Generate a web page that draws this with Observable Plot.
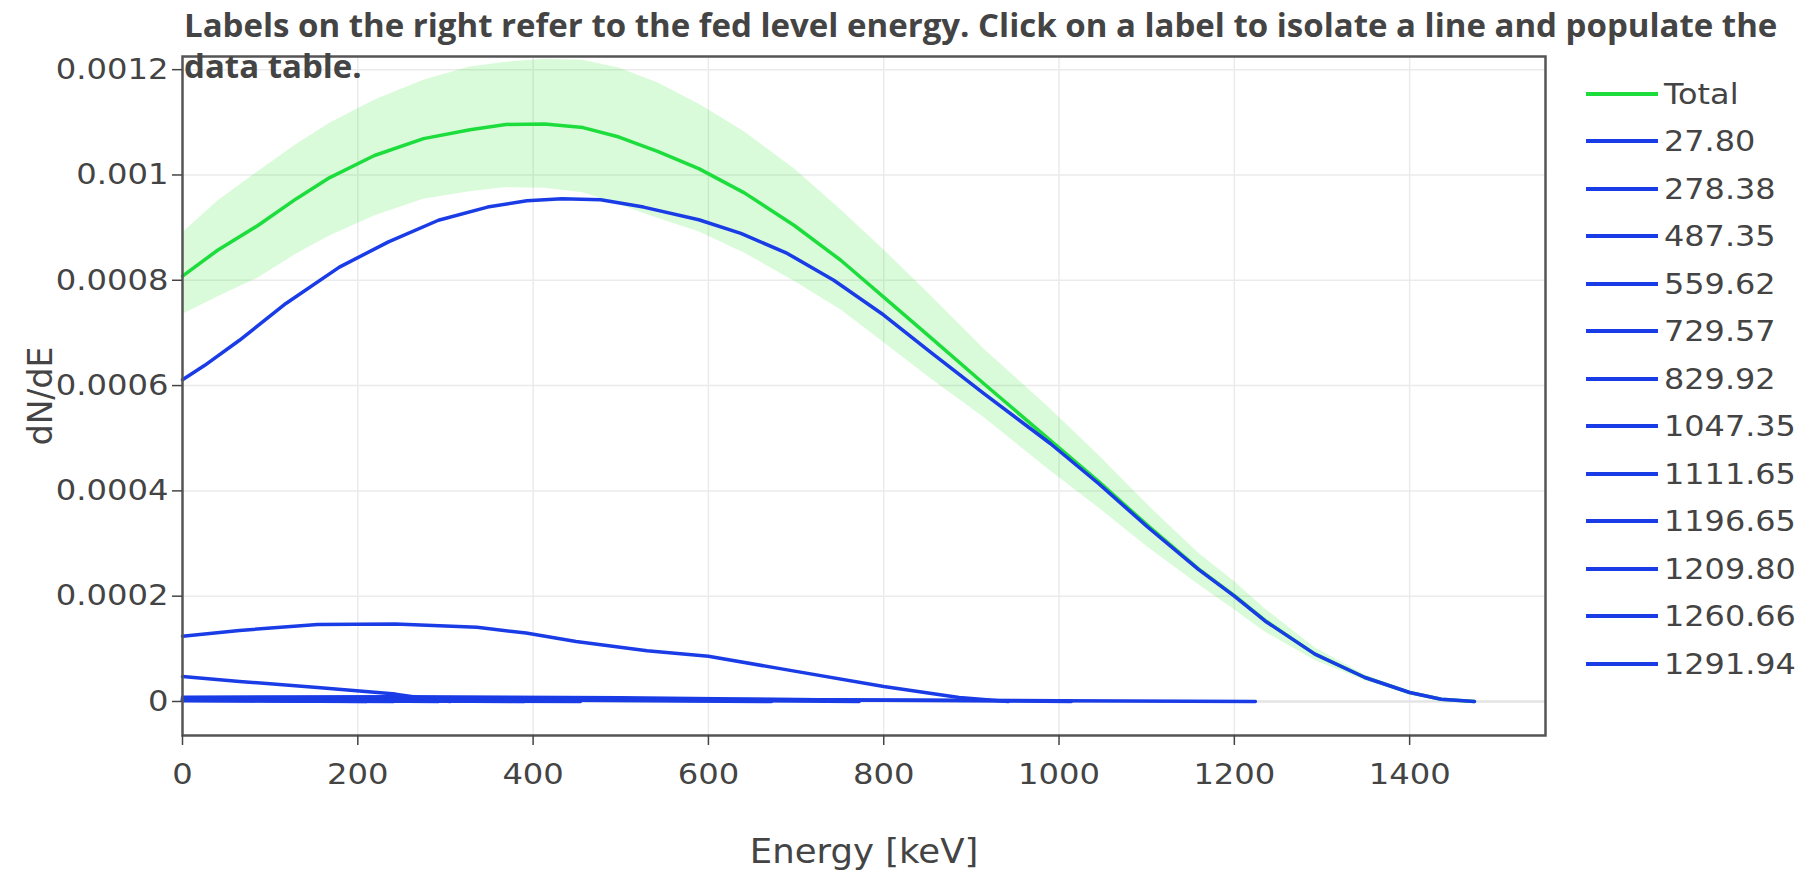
<!DOCTYPE html>
<html><head><meta charset="utf-8">
<script src="https://cdn.jsdelivr.net/npm/d3@7"></script>
<script src="https://cdn.jsdelivr.net/npm/@observablehq/plot@0.6"></script>
<style>
body{margin:0;background:#fff;}
#wrap{position:relative;width:1802px;height:872px;overflow:hidden;background:#fff;}
#chart{position:absolute;left:0;top:0;}
#title{position:absolute;left:184px;top:4px;font-family:"Open Sans";font-weight:700;font-size:27px;line-height:41px;color:#444;white-space:nowrap;z-index:2;}
#legend{position:absolute;left:1586px;top:70px;font-family:"DejaVu Sans";font-size:29px;color:#444;}
.row{display:flex;align-items:center;height:47.5px;}
.sw{width:72px;height:4px;margin-right:6px;flex:none;}
.lt{display:inline-block;transform:scaleX(1.1);transform-origin:left center;}
</style></head>
<body>
<div id="wrap">
  <div id="chart"></div>
  <div id="title"><span id="t1">Labels on the right refer to the fed level energy. Click on a label to isolate a line and populate the</span><br><span>data table.</span></div>
  <div id="legend"></div>
</div>
<script>
// ---- Data ----
const xTicks = [0, 200, 400, 600, 800, 1000, 1200, 1400];
const xTickLabels = ["0", "200", "400", "600", "800", "1000", "1200", "1400"];
const yTicks = [0, 0.0002, 0.0004, 0.0006, 0.0008, 0.001, 0.0012];
const yTickLabels = ["0", "0.0002", "0.0004", "0.0006", "0.0008", "0.001", "0.0012"];

const totalE = [0, 40, 86, 130, 168, 219, 275, 328, 369, 413, 457, 498, 542, 589, 641, 698, 751, 800, 853, 914, 990, 1045, 1102, 1159, 1200, 1235, 1292, 1349, 1400, 1436, 1474];
const totalY = [0.000808, 0.000857, 0.000904, 0.000955, 0.000995, 0.001037, 0.001069, 0.001086, 0.001096, 0.001097, 0.00109, 0.001072, 0.001045, 0.001012, 0.000966, 0.000904, 0.000838, 0.000768, 0.000692, 0.000604, 0.000496, 0.000418, 0.000333, 0.000252, 0.000201, 0.000154, 0.00009, 0.0000456, 0.0000171, 0.0000044, 0];
const totalUpper = [0.00089, 0.00095, 0.001006, 0.001058, 0.001098, 0.001142, 0.00118, 0.001205, 0.001214, 0.00122, 0.001218, 0.001203, 0.001175, 0.001135, 0.001082, 0.001012, 0.000934, 0.000858, 0.000772, 0.00067, 0.000556, 0.000468, 0.000372, 0.000282, 0.000228, 0.000176, 0.000102, 0.000051, 0.000019, 0.000005, 0];
const totalLower = [0.000735, 0.000768, 0.000804, 0.00085, 0.000884, 0.000922, 0.000954, 0.000968, 0.000976, 0.000975, 0.000966, 0.000944, 0.000918, 0.000892, 0.000852, 0.000798, 0.000744, 0.000682, 0.000614, 0.00054, 0.000438, 0.000368, 0.000292, 0.000222, 0.000174, 0.000132, 0.000078, 0.00004, 0.000015, 0.000004, 0];

const levels = ["27.80", "278.38", "487.35", "559.62", "729.57", "829.92", "1047.35", "1111.65", "1196.65", "1209.80", "1260.66", "1291.94"];

const e_27_80 = [0, 25, 65, 118, 179, 235, 292, 348, 393, 433, 477, 526, 589, 637, 690, 743, 800, 853, 914, 990, 1045, 1102, 1159, 1200, 1235, 1292, 1349, 1400, 1436, 1474];
const y_27_80 = [0.000611, 0.000638, 0.000686, 0.000756, 0.000825, 0.000873, 0.000914, 0.000939, 0.000951, 0.000955, 0.000953, 0.000939, 0.000915, 0.000889, 0.000851, 0.0008, 0.000734, 0.000664, 0.000585, 0.00049, 0.000414, 0.00033, 0.000251, 0.0002, 0.000153, 0.00009, 0.0000456, 0.0000171, 0.0000044, 0];
const e_278_38 = [0, 200, 400, 600, 800, 1000, 1224];
const y_278_38 = [0.000004, 0.000005, 0.000005, 0.000004, 0.000003, 0.0000015, 0];
const e_487_35 = [0, 250, 500, 750, 1014];
const y_487_35 = [0.000008, 0.000009, 0.000007, 0.000003, 0];
const e_559_62 = [0, 65, 154, 243, 336, 392, 449, 530, 600, 690, 800, 886, 942];
const y_559_62 = [0.000124, 0.000135, 0.000146, 0.000147, 0.000141, 0.00013, 0.000114, 0.0000965, 0.000086, 0.00006, 0.0000286, 0.0000076, 0];
const e_729_57 = [0, 200, 400, 600, 772];
const y_729_57 = [0.000006, 0.000006, 0.000004, 0.000002, 0];
const e_829_92 = [0, 200, 400, 672];
const y_829_92 = [0.000005, 0.000004, 0.000003, 0];
const e_1047_35 = [0, 200, 454];
const y_1047_35 = [0.000003, 0.000002, 0];
const e_1111_65 = [0, 200, 390];
const y_1111_65 = [0.000003, 0.000002, 0];
const e_1196_65 = [0, 65, 154, 243, 275, 305];
const y_1196_65 = [0.0000476, 0.0000381, 0.0000267, 0.000014, 0.000006, 0];
const e_1209_80 = [0, 150, 292];
const y_1209_80 = [0.000004, 0.000002, 0];
const e_1260_66 = [0, 120, 241];
const y_1260_66 = [0.000002, 0.000001, 0];
const e_1291_94 = [0, 100, 210];
const y_1291_94 = [0.000002, 0.000001, 0];

// ---- Tables built from the arrays ----
const series = [
  [e_27_80, y_27_80], [e_278_38, y_278_38], [e_487_35, y_487_35], [e_559_62, y_559_62],
  [e_729_57, y_729_57], [e_829_92, y_829_92], [e_1047_35, y_1047_35], [e_1111_65, y_1111_65],
  [e_1196_65, y_1196_65], [e_1209_80, y_1209_80], [e_1260_66, y_1260_66], [e_1291_94, y_1291_94]
];
const compRows = [];
series.forEach(([es, ys], k) => es.forEach((e, i) => compRows.push({level: levels[k], E: e, v: ys[i]})));
const totalRows = totalE.map((e, i) => ({E: e, v: totalY[i], lo: totalLower[i], hi: totalUpper[i]}));

const GREEN = "#1ddd3d";
const BLUE = "#1a3ce6";

const chart = Plot.plot({
  width: 1802,
  height: 872,
  marginLeft: 182,
  marginRight: 257,
  marginTop: 56,
  marginBottom: 137,
  style: {fontFamily: "DejaVu Sans", fontSize: "29px", color: "#444", background: "transparent", overflow: "visible"},
  x: {domain: [0, 1555]},
  y: {domain: [-0.0000646, 0.001225]},
  marks: [
    Plot.gridX(xTicks.slice(1), {stroke: "#ebebeb", strokeOpacity: 1, strokeWidth: 1.5}),
    Plot.gridY(yTicks.slice(1), {stroke: "#ebebeb", strokeOpacity: 1, strokeWidth: 1.5}),
    Plot.ruleY([0], {stroke: "#e4e4e4", strokeWidth: 2.5}),
    Plot.areaY(totalRows, {x: "E", y1: "lo", y2: "hi", fill: "#00e600", fillOpacity: 0.15}),
    Plot.line(totalRows, {x: "E", y: "v", stroke: GREEN, strokeWidth: 3.5}),
    Plot.line(compRows, {x: "E", y: "v", z: "level", stroke: BLUE, strokeWidth: 3.5}),
    Plot.frame({stroke: "#555", strokeWidth: 2.5}),
    Plot.axisX({ticks: xTicks, tickFormat: d => xTickLabels[xTicks.indexOf(d)], tickSize: 10, tickPadding: 18, label: null, stroke: "#444", strokeWidth: 1.5}),
    Plot.axisY({ticks: yTicks, tickFormat: d => yTickLabels[yTicks.indexOf(d)], tickSize: 10, tickPadding: 4, label: null, stroke: "#444", strokeWidth: 1.5}),
    Plot.text(["Energy [keV]"], {frameAnchor: "bottom", dy: 117, lineAnchor: "middle", textAnchor: "middle", fontSize: 33, fill: "#444"}),
    Plot.text(["dN/dE"], {frameAnchor: "left", dx: -141, rotate: -90, lineAnchor: "middle", textAnchor: "middle", fontSize: 33, fill: "#444"})
  ]
});
document.getElementById("chart").appendChild(chart);

// Horizontal glyph stretch to match the reference's wide lettering
function stretch(el, s) {
  const len = el.getComputedTextLength();
  if (len > 0) {
    el.setAttribute("textLength", (len * s).toFixed(2));
    el.setAttribute("lengthAdjust", "spacingAndGlyphs");
  }
}
chart.querySelectorAll('g[aria-label*="tick label"] text').forEach(el => stretch(el, 1.11));
chart.querySelectorAll('text').forEach(el => { if (el.textContent === "Energy [keV]") stretch(el, 1.075); });

// Legend
const legend = document.getElementById("legend");
const entries = [["Total", GREEN], ...levels.map(l => [l, BLUE])];
for (const [name, color] of entries) {
  const row = document.createElement("div");
  row.className = "row";
  const sw = document.createElement("div");
  sw.className = "sw";
  sw.style.background = color;
  const tx = document.createElement("span");
  tx.className = "lt";
  tx.textContent = name;
  row.appendChild(sw); row.appendChild(tx);
  legend.appendChild(row);
}

// Fit title line width to reference
const t1 = document.getElementById("t1");
const w = t1.getBoundingClientRect().width;
const title = document.getElementById("title");
title.style.fontSize = (27 * 1594 / w).toFixed(2) + "px";
</script>
</body></html>
